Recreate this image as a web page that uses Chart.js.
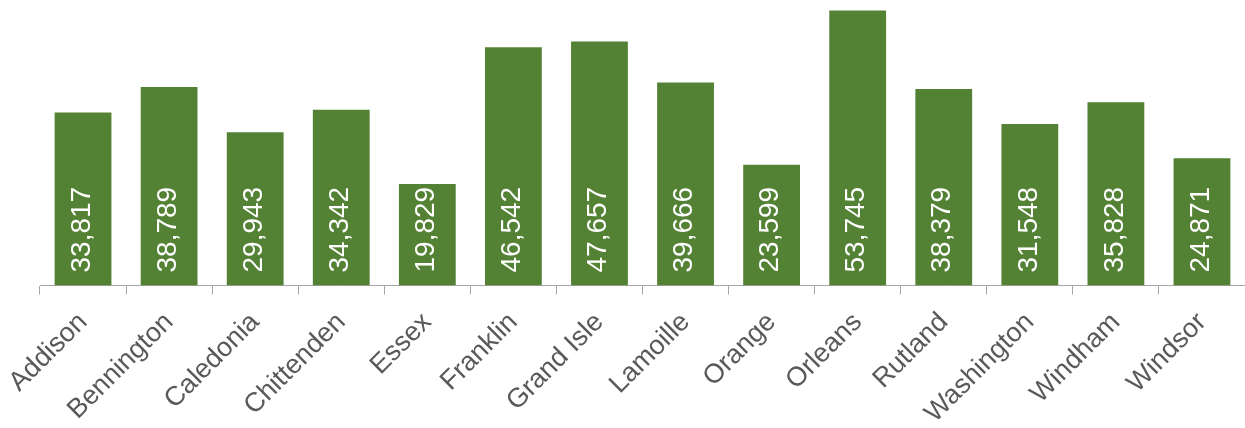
<!DOCTYPE html>
<html>
<head>
<meta charset="utf-8">
<script src="https://cdn.jsdelivr.net/npm/chart.js@4"></script>
<style>
  html, body { margin: 0; padding: 0; background: #ffffff; }
  #wrap { width: 1245px; height: 428px; position: relative; }
</style>
</head>
<body>
<div id="wrap"><canvas id="c"></canvas></div>
<script>
const categories = ["Addison", "Bennington", "Caledonia", "Chittenden", "Essex", "Franklin", "Grand Isle", "Lamoille", "Orange", "Orleans", "Rutland", "Washington", "Windham", "Windsor"];
const values = [33817, 38789, 29943, 34342, 19829, 46542, 47657, 39666, 23599, 53745, 38379, 31548, 35828, 24871];

const barLabels = {
  id: 'barLabels',
  afterDatasetsDraw(chart) {
    const ctx = chart.ctx;
    const meta = chart.getDatasetMeta(0);
    ctx.save();
    ctx.fillStyle = '#ffffff';
    ctx.font = '28px "Liberation Sans", Arial, sans-serif';
    ctx.textAlign = 'left';
    ctx.textBaseline = 'middle';
    meta.data.forEach((bar, i) => {
      const txt = values[i].toLocaleString('en-US');
      ctx.save();
      ctx.translate(bar.x - 1, bar.base - 13);
      ctx.rotate(-Math.PI / 2);
      ctx.fillText(txt, 0, 0);
      ctx.restore();
    });
    ctx.restore();
  }
};

new Chart(document.getElementById('c'), {
  type: 'bar',
  data: {
    labels: categories,
    datasets: [{
      data: values,
      backgroundColor: '#548235',
      borderWidth: 0,
      categoryPercentage: 1.0,
      barPercentage: 0.66
    }]
  },
  options: {
    responsive: true,
    maintainAspectRatio: false,
    animation: false,
    layout: { padding: { top: 4, right: 0, left: 40, bottom: 0 } },
    plugins: { legend: { display: false }, tooltip: { enabled: false } },
    scales: {
      x: {
        afterFit: (s) => { s.height = 142.5; },
        grid: {
          display: true,
          offset: true,
          drawOnChartArea: false,
          drawTicks: true,
          tickLength: 9,
          color: '#a6a6a6',
          lineWidth: 1
        },
        border: { display: true, color: '#a6a6a6', width: 1 },
        ticks: {
          color: '#595959',
          font: { family: '"Liberation Sans", Arial, sans-serif', size: 27 },
          maxRotation: 45,
          minRotation: 45,
          autoSkip: false,
          padding: 12
        }
      },
      y: {
        display: false,
        min: 0,
        max: 55000
      }
    }
  },
  plugins: [barLabels]
});
</script>
</body>
</html>
